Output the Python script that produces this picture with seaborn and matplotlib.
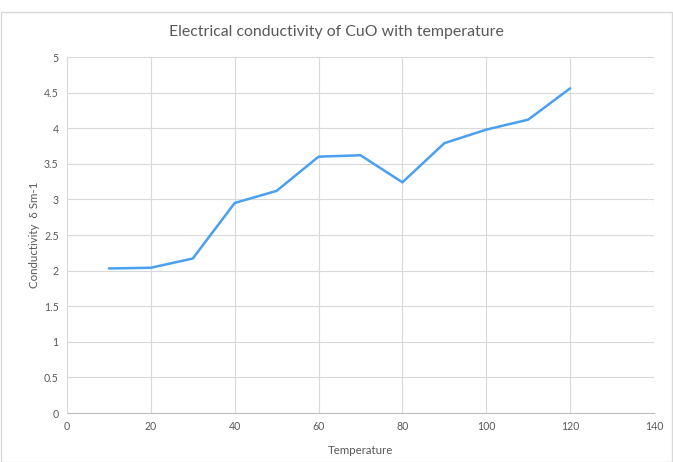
import matplotlib
matplotlib.use("Agg")
import matplotlib.pyplot as plt
import seaborn as sns
import pandas as pd
from matplotlib.patches import Rectangle

temperature = [10, 20, 30, 40, 50, 60, 70, 80, 90, 100, 110, 120]
conductivity = [2.03, 2.04, 2.17, 2.95, 3.12, 3.60, 3.62, 3.24, 3.79, 3.98, 4.12, 4.56]
x_ticks = [0, 20, 40, 60, 80, 100, 120, 140]
y_ticks = [0, 0.5, 1, 1.5, 2, 2.5, 3, 3.5, 4, 4.5, 5]
y_tick_labels = ["0", "0.5", "1", "1.5", "2", "2.5", "3", "3.5", "4", "4.5", "5"]

df = pd.DataFrame({"Temperature": temperature, "Conductivity": conductivity})

sns.set_theme(style="white")
plt.rcParams['font.family'] = ['Lato', 'DejaVu Sans']

fig = plt.figure(figsize=(6.73, 4.62), dpi=100)
fig.patch.set_facecolor("white")
fig.patches.append(Rectangle((0.5 / 673, 0.5 / 462), 1 - 1.5 / 673, 1 - 12.5 / 462,
                             transform=fig.transFigure, fill=False,
                             edgecolor="#d9d9d9", linewidth=1.0))
ax = fig.add_axes([67 / 673, 1 - 413 / 462, (654 - 67) / 673, (413 - 57) / 462])

sns.lineplot(data=df, x="Temperature", y="Conductivity", ax=ax,
             color="#4a9ff0", linewidth=1.8)

ax.set_xlim(0, 140)
ax.set_ylim(0, 5)
ax.set_xticks(x_ticks)
ax.set_yticks(y_ticks)
ax.set_yticklabels(y_tick_labels)
ax.grid(True, color="#d9d9d9", linewidth=0.8)
ax.set_axisbelow(True)
for side in ["top", "right", "left"]:
    ax.spines[side].set_visible(False)
ax.spines["bottom"].set_color("#bfbfbf")
ax.spines["bottom"].set_linewidth(0.8)
ax.tick_params(axis="both", length=0, colors="#595959", labelsize=7.6, pad=6)

ax.set_xlabel("Temperature", fontsize=8.3, color="#595959", labelpad=9)
ax.set_ylabel("Conductivity  δ Sm-1", fontsize=8.3, color="#595959", labelpad=3)
fig.text(0.5, 1 - 32 / 462, "Electrical conductivity of CuO with temperature",
         ha="center", va="center", fontsize=11.4, color="#595959")

fig.savefig("out.png", dpi=100)
